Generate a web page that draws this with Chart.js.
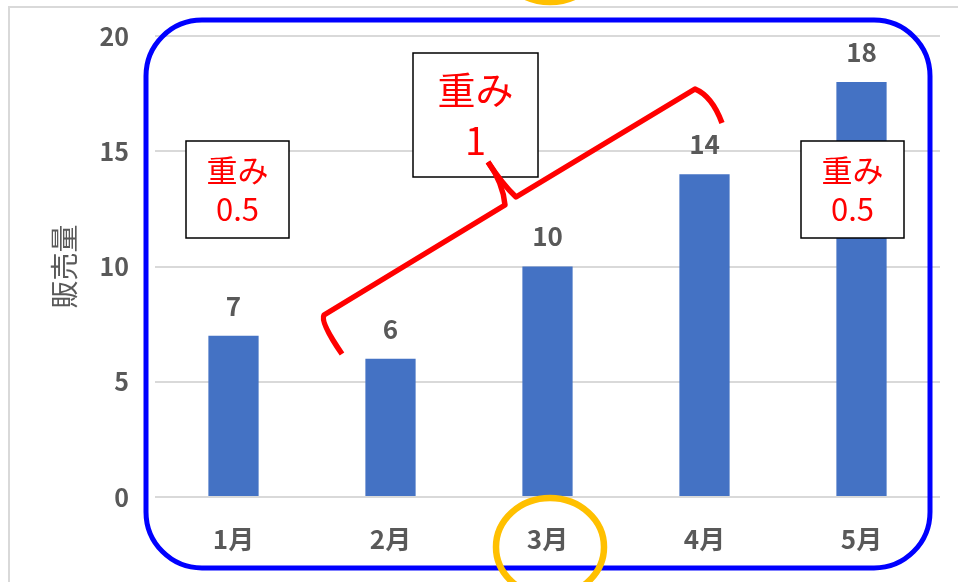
<!DOCTYPE html>
<html lang="ja">
<head>
<meta charset="utf-8">
<title>月別販売量</title>
<script src="https://cdn.jsdelivr.net/npm/chart.js@4/dist/chart.umd.min.js"></script>
<style>
  html, body { margin: 0; padding: 0; background: #ffffff; }
  #wrap { width: 958px; height: 582px; position: relative; }
</style>
</head>
<body>
<div id="wrap"><canvas id="chart" width="958" height="582"></canvas></div>
<script>
// Monthly sales
const months = ['1月', '2月', '3月', '4月', '5月'];
const sales = [7, 6, 10, 14, 18];
const yTicks = [0, 5, 10, 15, 20];
const axisTitle = '販売量';

// Weight notes shown in boxes
const weightNotes = [
  { lines: ['重み', '0.5'], box: [186, 141, 103, 97], size: 31, gap: 39 },
  { lines: ['重み', '1'],   box: [413, 53, 125, 124], size: 38, gap: 51 },
  { lines: ['重み', '0.5'], box: [801, 141, 103, 97], size: 31, gap: 39 }
];

const JP = '"Noto Sans CJK JP", "Noto Sans", sans-serif';
const GRAY = '#595959';

// Value labels above each bar
const valueLabels = {
  id: 'valueLabels',
  afterDatasetsDraw(chart) {
    const { ctx } = chart;
    const meta = chart.getDatasetMeta(0);
    const data = chart.data.datasets[0].data;
    ctx.save();
    ctx.font = 'bold 26px ' + JP;
    ctx.fillStyle = GRAY;
    ctx.textAlign = 'center';
    ctx.textBaseline = 'middle';
    meta.data.forEach((bar, i) => {
      ctx.fillText(String(data[i]), bar.x, bar.y - 30);
    });
    ctx.restore();
  }
};

// Outer frame, highlight shapes, brace and note boxes
const overlay = {
  id: 'overlay',
  beforeDraw(chart) {
    const { ctx } = chart;
    ctx.save();
    ctx.strokeStyle = '#d9d9d9';
    ctx.lineWidth = 2;
    ctx.strokeRect(9, 7, 1000, 640);
    ctx.restore();
  },
  afterDraw(chart) {
    const { ctx } = chart;
    ctx.save();

    // blue rounded frame
    ctx.strokeStyle = '#0000ff';
    ctx.lineWidth = 5;
    ctx.beginPath();
    ctx.roundRect(146, 20, 784, 548, 56);
    ctx.stroke();

    // note boxes
    weightNotes.forEach(n => {
      const [x, y, w, h] = n.box;
      ctx.fillStyle = '#ffffff';
      ctx.fillRect(x, y, w, h);
      ctx.strokeStyle = '#000000';
      ctx.lineWidth = 1.5;
      ctx.strokeRect(x, y, w, h);
      ctx.fillStyle = '#ff0000';
      ctx.font = n.size + 'px ' + JP;
      ctx.textAlign = 'center';
      ctx.textBaseline = 'middle';
      const cx = x + w / 2;
      const cy = y + h / 2;
      ctx.fillText(n.lines[0], cx, cy - n.gap / 2);
      ctx.fillText(n.lines[1], cx, cy + n.gap / 2);
    });

    // red curly brace
    ctx.strokeStyle = '#ff0000';
    ctx.lineWidth = 5.5;
    ctx.lineCap = 'butt';
    ctx.lineJoin = 'round';
    ctx.beginPath();
    ctx.moveTo(342, 354);
    ctx.quadraticCurveTo(320, 322, 324, 315);
    ctx.lineTo(505, 205);
    ctx.quadraticCurveTo(503, 183, 488, 162);
    ctx.stroke();
    ctx.beginPath();
    ctx.moveTo(488, 162);
    ctx.quadraticCurveTo(503, 185, 516, 197);
    ctx.lineTo(695, 89);
    ctx.quadraticCurveTo(712, 96, 722, 123);
    ctx.stroke();

    // orange circles
    ctx.strokeStyle = '#ffc000';
    ctx.lineWidth = 6.5;
    ctx.beginPath();
    ctx.ellipse(550, 547, 54, 49, 0, 0, Math.PI * 2);
    ctx.stroke();
    ctx.beginPath();
    ctx.ellipse(550, -47, 54, 49, 0, 0, Math.PI * 2);
    ctx.stroke();

    ctx.restore();
  }
};

new Chart(document.getElementById('chart'), {
  type: 'bar',
  data: {
    labels: months,
    datasets: [{
      label: axisTitle,
      data: sales,
      backgroundColor: '#4472c4',
      borderWidth: 0,
      barPercentage: 0.32,
      categoryPercentage: 1
    }]
  },
  options: {
    responsive: false,
    animation: false,
    devicePixelRatio: 1,
    layout: { padding: { top: 36, right: 18, bottom: 0, left: 0 } },
    plugins: { legend: { display: false }, tooltip: { enabled: false } },
    scales: {
      x: {
        grid: { display: false },
        border: { display: false },
        ticks: { color: GRAY, font: { family: JP, size: 26, weight: 'bold' }, padding: 19 },
        afterFit(scale) { scale.height = 85; }
      },
      y: {
        min: 0,
        max: 20,
        afterBuildTicks(scale) { scale.ticks = yTicks.map(v => ({ value: v })); },
        grid: { color: '#d9d9d9', lineWidth: 2, drawTicks: false },
        border: { display: false },
        ticks: { color: GRAY, font: { family: JP, size: 25, weight: 'bold' }, padding: 26 },
        title: {
          display: true,
          text: axisTitle,
          color: GRAY,
          font: { family: JP, size: 28, weight: 'normal' },
          padding: { top: 48, bottom: 0 }
        },
        afterFit(scale) {
          scale.width = 155;
          // keep the tick-label padding from pushing the plot area down
          scale.paddingTop = 16;
          scale.paddingBottom = 16;
        }
      }
    }
  },
  plugins: [valueLabels, overlay]
});
</script>
</body>
</html>
